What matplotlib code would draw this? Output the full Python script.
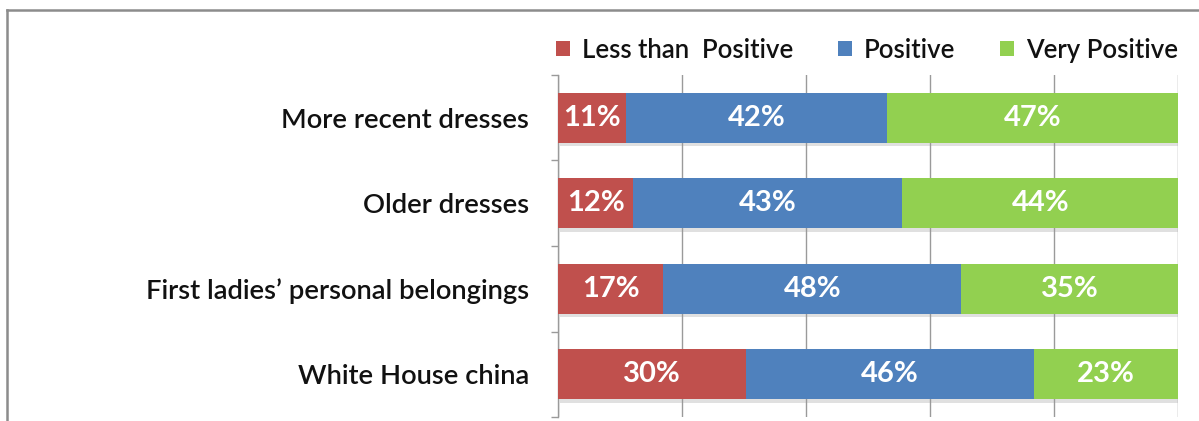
import matplotlib.pyplot as plt
import matplotlib.patheffects as pe
from matplotlib.lines import Line2D
from matplotlib.patches import Patch
import numpy as np

plt.rcParams["font.family"] = ["Lato", "DejaVu Sans"]

# Survey responses per item, in percent
CATEGORIES = [
    "More recent dresses",
    "Older dresses",
    "First ladies\u2019 personal belongings",
    "White House china",
]
LESS_THAN_POSITIVE = [11, 12, 17, 30]
POSITIVE = [42, 43, 48, 46]
VERY_POSITIVE = [47, 44, 35, 23]

SERIES_NAMES = ["Less than  Positive", "Positive", "Very Positive"]
COLORS = ["#C0504D", "#4F81BD", "#92D050"]

W, H = 1199, 421
fig = plt.figure(figsize=(W / 100, H / 100), dpi=100)
ax = fig.add_axes([558 / W, 4 / H, 620 / W, 342 / H])

values = np.array([LESS_THAN_POSITIVE, POSITIVE, VERY_POSITIVE], dtype=float)
shares = values / values.sum(axis=0)  # 100% stacked
y = np.arange(len(CATEGORIES))

shadow = [pe.SimplePatchShadow(offset=(1.5, -2.5), shadow_rgbFace="#999999", alpha=0.3),
          pe.Normal()]

left = np.zeros(len(CATEGORIES))
for raw, share, color, name in zip(values, shares, COLORS, SERIES_NAMES):
    bars = ax.barh(y, share, left=left, height=0.585, color=color,
                   label=name, zorder=3)
    for b in bars:
        b.set_path_effects(shadow)
    for yi, l, s, v in zip(y, left, share, raw):
        ax.text(l + s / 2, yi, f"{v:.0f}%", ha="center", va="center",
                color="white", fontsize=21, fontweight="bold", zorder=4)
    left += share

ax.set_xlim(0, 1)
ax.set_ylim(len(CATEGORIES) - 0.5, -0.5)
ax.set_xticks(np.linspace(0, 1, 6))
ax.xaxis.grid(True, color="#9a9a9a", linewidth=1.0, zorder=0)
ax.tick_params(axis="x", length=0, labelbottom=False)

ax.set_yticks(y)
ax.set_yticklabels(CATEGORIES, fontsize=19.7, fontweight=600, color="#111111")
ax.set_yticks(np.arange(len(CATEGORIES) + 1) - 0.5, minor=True)
ax.tick_params(axis="y", which="major", length=0, pad=21)
ax.tick_params(axis="y", which="minor", length=5, color="#9a9a9a", width=1.0)

for side in ["top", "right", "bottom"]:
    ax.spines[side].set_visible(False)
ax.spines["left"].set_color("#9a9a9a")
ax.spines["left"].set_linewidth(1.0)

handles = [Patch(facecolor=c, edgecolor="none") for c in COLORS]
ax.legend(handles, SERIES_NAMES, loc="center right", ncol=3, frameon=False,
          bbox_to_anchor=(1.0, 1.073), handlelength=0.55,
          handleheight=0.55, handletextpad=0.45, columnspacing=1.75,
          borderaxespad=0, borderpad=0, labelcolor="#111111",
          prop={"size": 18.5, "weight": 600})

# Outer frame, open at right and bottom
frame = "#8c8c8c"
fig.add_artist(Line2D([7 / W, 1], [1 - 10 / H, 1 - 10 / H],
                      transform=fig.transFigure, color=frame, linewidth=1.8))
fig.add_artist(Line2D([7 / W, 7 / W], [0, 1 - 10 / H],
                      transform=fig.transFigure, color=frame, linewidth=1.8))

fig.savefig("out.png", dpi=100)
